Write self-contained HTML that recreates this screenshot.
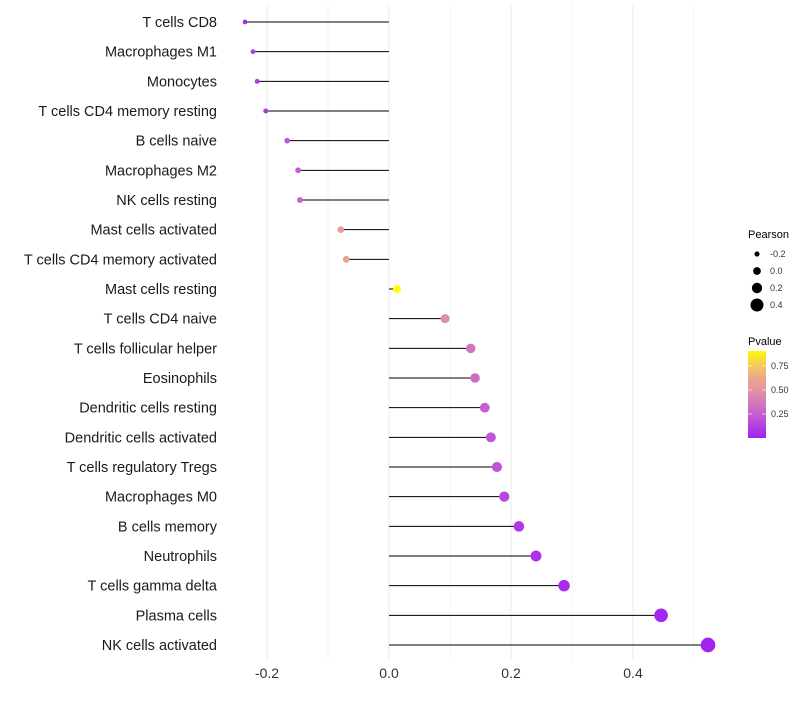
<!DOCTYPE html>
<html><head><meta charset="utf-8"><style>
body{margin:0;background:#fff;font-family:"Liberation Sans",sans-serif}
</style></head><body>
<svg id="chart" width="800" height="700" xmlns="http://www.w3.org/2000/svg" font-family="Liberation Sans, sans-serif"></svg>
<script>
const categories=["T cells CD8","Macrophages M1","Monocytes","T cells CD4 memory resting","B cells naive","Macrophages M2","NK cells resting","Mast cells activated","T cells CD4 memory activated","Mast cells resting","T cells CD4 naive","T cells follicular helper","Eosinophils","Dendritic cells resting","Dendritic cells activated","T cells regulatory  Tregs ","Macrophages M0","B cells memory","Neutrophils","T cells gamma delta","Plasma cells","NK cells activated"];
const pearson=[-0.236,-0.223,-0.216,-0.202,-0.167,-0.149,-0.146,-0.079,-0.070,0.013,0.092,0.134,0.141,0.157,0.167,0.177,0.189,0.213,0.241,0.287,0.446,0.523];
const pvalue=[0.03,0.12,0.1,0.1,0.2,0.25,0.27,0.55,0.58,0.95,0.47,0.35,0.3,0.25,0.22,0.2,0.15,0.1,0.08,0.05,0.02,0.01];
const xTicks=[-0.2,0,0.2,0.4];
const xTickLabels=["-0.2","0.0","0.2","0.4"];
const sizeLegend=[-0.2,0,0.2,0.4];
const sizeLegendLabels=["-0.2","0.0","0.2","0.4"];
const pLegend=[0.25,0.5,0.75];
const pLegendLabels=["0.25","0.50","0.75"];

const NS="http://www.w3.org/2000/svg";
const svg=document.getElementById('chart');
function mk(t,a,p){const e=document.createElementNS(NS,t);for(const k in a)e.setAttribute(k,a[k]);(p||svg).appendChild(e);return e;}
const xs=v=>389+v*610;
const ys=i=>22+i*(623/21);
const rs=v=>2.3+(v+0.24)/0.76*5;
const stops=[[0,[160,32,240]],[0.25,[196,90,212]],[0.5,[224,140,168]],[0.75,[240,180,125]],[1,[255,255,0]]];
function col(p){p=Math.max(0,Math.min(1,p/0.92));for(let i=1;i<stops.length;i++){if(p<=stops[i][0]){const a=stops[i-1],b=stops[i],t=(p-a[0])/(b[0]-a[0]);const c=a[1].map((x,j)=>Math.round(x+(b[1][j]-x)*t));return `rgb(${c})`;}}return 'rgb(255,255,0)';}

for(let k=-2;k<=5;k++){const v=k/10;const g=mk('line',{x1:xs(v),x2:xs(v),y1:5,y2:660,stroke:'#ebebeb','stroke-width':k%2==0?1:0.6});}

categories.forEach((c,i)=>{
  const y=ys(i);
  const l=mk('line',{x1:xs(0),x2:xs(pearson[i]),y1:y,y2:y,stroke:'#000','stroke-width':1});
  
  const d=mk('circle',{cx:xs(pearson[i]),cy:y,r:rs(pearson[i]),fill:col(pvalue[i])});
  
  const t=mk('text',{x:217,y:y+5,'text-anchor':'end','font-size':14.5,fill:'#1a1a1a'});t.textContent=c;
  
});
xTicks.forEach((v,i)=>{const t=mk('text',{x:xs(v),y:678,'text-anchor':'middle','font-size':14,fill:'#333'});t.textContent=xTickLabels[i];
  });

let t=mk('text',{x:748,y:238,'font-size':11,fill:'#000'});t.textContent='Pearson';
sizeLegend.forEach((v,i)=>{const y=254+i*17;const c=mk('circle',{cx:757,cy:y,r:rs(v),fill:'#000'});
 const tx=mk('text',{x:770,y:y+3,'font-size':9,fill:'#333'});tx.textContent=sizeLegendLabels[i];});
t=mk('text',{x:748,y:345,'font-size':11,fill:'#000'});t.textContent='Pvalue';
const defs=mk('defs',{});const lg=mk('linearGradient',{id:'pg',x1:0,y1:1,x2:0,y2:0},defs);
for(let k=0;k<=10;k++){mk('stop',{offset:k/10,'stop-color':col(k/10*0.906)},lg);}
const cb=mk('rect',{x:748,y:351,width:18,height:87,fill:'url(#pg)'});
pLegend.forEach((v,i)=>{const y=438-v*96;mk('line',{x1:748,x2:752,y1:y,y2:y,stroke:'#fff','stroke-width':0.6});mk('line',{x1:762,x2:766,y1:y,y2:y,stroke:'#fff','stroke-width':0.6});
 const tx=mk('text',{x:771,y:y+3,'font-size':9,fill:'#333'});tx.textContent=pLegendLabels[i];});
</script>
</body></html>
